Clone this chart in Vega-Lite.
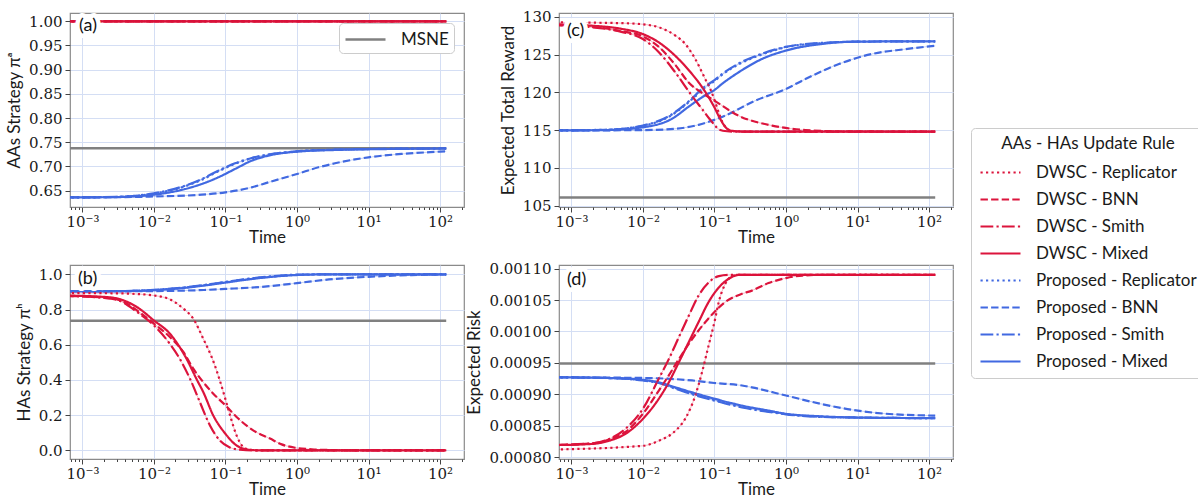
{
  "$schema": "https://vega.github.io/schema/vega-lite/v6.json",
  "background": "white",
  "padding": {"left": 5, "top": 9, "right": 0, "bottom": 0},
  "columns": 2,
  "bounds": "flush",
  "spacing": {"row": 58, "column": 95},
  "resolve": {"scale": {"stroke": "independent"}, "legend": {"stroke": "independent"}},
  "config": {
    "view": {"stroke": "#8a8a8a", "strokeWidth": 1.2},
    "axis": {"domain": false, "tickColor": "#444444", "tickWidth": 1, "gridColor": "#d4def4", "gridWidth": 1, "labelFont": "DejaVu Serif", "labelFontSize": 15, "labelColor": "#1a1a1a", "titleFont": "Lato", "titleFontSize": 17, "titleFontWeight": "normal", "titleColor": "#1a1a1a", "labelOverlap": false},
    "axisY": {"tickSize": 5, "labelPadding": 3, "titlePadding": 5},
    "axisX": {"labelPadding": 2, "titlePadding": 0},
    "legend": {"orient": "none", "legendX": 901, "legendY": 115, "titleFont": "Lato", "titleFontSize": 17, "titleFontWeight": "normal", "titleColor": "#1a1a1a", "titleAnchor": "middle", "titlePadding": 8, "labelFont": "Lato", "labelFontSize": 17, "labelColor": "#1a1a1a", "labelLimit": 400, "symbolType": "M-1,0H3", "symbolSize": 400, "symbolStrokeWidth": 2.2, "symbolOpacity": 1, "labelOffset": 34, "rowPadding": 7, "padding": 8, "strokeColor": "#cccccc", "fillColor": "white", "cornerRadius": 4}
  },
  "datasets": {
    "a": [
      {"s": "MSNE", "t": 0.0005, "v": 0.7375}, {"s": "MSNE", "t": 122, "v": 0.7375},
      {"s": "Proposed - Replicator", "t": 0.0005, "v": 0.636}, {"s": "Proposed - Replicator", "t": 0.002, "v": 0.6366}, {"s": "Proposed - Replicator", "t": 0.005, "v": 0.6388}, {"s": "Proposed - Replicator", "t": 0.01, "v": 0.644}, {"s": "Proposed - Replicator", "t": 0.0272, "v": 0.659}, {"s": "Proposed - Replicator", "t": 0.0465, "v": 0.6725}, {"s": "Proposed - Replicator", "t": 0.0794, "v": 0.69}, {"s": "Proposed - Replicator", "t": 0.136, "v": 0.7055}, {"s": "Proposed - Replicator", "t": 0.233, "v": 0.717}, {"s": "Proposed - Replicator", "t": 0.397, "v": 0.7242}, {"s": "Proposed - Replicator", "t": 1, "v": 0.7312}, {"s": "Proposed - Replicator", "t": 3.4, "v": 0.7347}, {"s": "Proposed - Replicator", "t": 10, "v": 0.7361}, {"s": "Proposed - Replicator", "t": 122, "v": 0.7373},
      {"s": "Proposed - BNN", "t": 0.0005, "v": 0.636}, {"s": "Proposed - BNN", "t": 0.005, "v": 0.637}, {"s": "Proposed - BNN", "t": 0.01, "v": 0.638}, {"s": "Proposed - BNN", "t": 0.0465, "v": 0.6417}, {"s": "Proposed - BNN", "t": 0.1, "v": 0.6466}, {"s": "Proposed - BNN", "t": 0.233, "v": 0.6569}, {"s": "Proposed - BNN", "t": 0.397, "v": 0.6672}, {"s": "Proposed - BNN", "t": 1, "v": 0.6845}, {"s": "Proposed - BNN", "t": 2, "v": 0.6983}, {"s": "Proposed - BNN", "t": 3.4, "v": 0.7066}, {"s": "Proposed - BNN", "t": 10, "v": 0.719}, {"s": "Proposed - BNN", "t": 29, "v": 0.7259}, {"s": "Proposed - BNN", "t": 100, "v": 0.7307}, {"s": "Proposed - BNN", "t": 122, "v": 0.7314},
      {"s": "Proposed - Smith", "t": 0.0005, "v": 0.636}, {"s": "Proposed - Smith", "t": 0.002, "v": 0.6367}, {"s": "Proposed - Smith", "t": 0.005, "v": 0.639}, {"s": "Proposed - Smith", "t": 0.01, "v": 0.6445}, {"s": "Proposed - Smith", "t": 0.0272, "v": 0.6603}, {"s": "Proposed - Smith", "t": 0.0465, "v": 0.674}, {"s": "Proposed - Smith", "t": 0.0794, "v": 0.6914}, {"s": "Proposed - Smith", "t": 0.136, "v": 0.7066}, {"s": "Proposed - Smith", "t": 0.233, "v": 0.7176}, {"s": "Proposed - Smith", "t": 0.397, "v": 0.7245}, {"s": "Proposed - Smith", "t": 1, "v": 0.7314}, {"s": "Proposed - Smith", "t": 3.4, "v": 0.7348}, {"s": "Proposed - Smith", "t": 10, "v": 0.7362}, {"s": "Proposed - Smith", "t": 122, "v": 0.7373},
      {"s": "Proposed - Mixed", "t": 0.0005, "v": 0.636}, {"s": "Proposed - Mixed", "t": 0.002, "v": 0.6365}, {"s": "Proposed - Mixed", "t": 0.005, "v": 0.638}, {"s": "Proposed - Mixed", "t": 0.01, "v": 0.6417}, {"s": "Proposed - Mixed", "t": 0.0272, "v": 0.6534}, {"s": "Proposed - Mixed", "t": 0.0465, "v": 0.6638}, {"s": "Proposed - Mixed", "t": 0.0794, "v": 0.6776}, {"s": "Proposed - Mixed", "t": 0.136, "v": 0.6948}, {"s": "Proposed - Mixed", "t": 0.233, "v": 0.712}, {"s": "Proposed - Mixed", "t": 0.397, "v": 0.7224}, {"s": "Proposed - Mixed", "t": 1, "v": 0.7307}, {"s": "Proposed - Mixed", "t": 3.4, "v": 0.7341}, {"s": "Proposed - Mixed", "t": 10, "v": 0.7355}, {"s": "Proposed - Mixed", "t": 122, "v": 0.7372},
      {"s": "DWSC - Replicator", "t": 0.0005, "v": 1.0}, {"s": "DWSC - Replicator", "t": 122, "v": 1.0},
      {"s": "DWSC - BNN", "t": 0.0005, "v": 1.0}, {"s": "DWSC - BNN", "t": 122, "v": 1.0},
      {"s": "DWSC - Smith", "t": 0.0005, "v": 1.0}, {"s": "DWSC - Smith", "t": 122, "v": 1.0},
      {"s": "DWSC - Mixed", "t": 0.0005, "v": 1.0}, {"s": "DWSC - Mixed", "t": 122, "v": 1.0}
    ],
    "b": [
      {"s": "MSNE", "t": 0.0005, "v": 0.737}, {"s": "MSNE", "t": 122, "v": 0.737},
      {"s": "Proposed - Replicator", "t": 0.0005, "v": 0.903}, {"s": "Proposed - Replicator", "t": 0.003, "v": 0.904}, {"s": "Proposed - Replicator", "t": 0.01, "v": 0.911}, {"s": "Proposed - Replicator", "t": 0.03, "v": 0.927}, {"s": "Proposed - Replicator", "t": 0.05, "v": 0.938}, {"s": "Proposed - Replicator", "t": 0.1, "v": 0.956}, {"s": "Proposed - Replicator", "t": 0.2, "v": 0.973}, {"s": "Proposed - Replicator", "t": 0.4, "v": 0.986}, {"s": "Proposed - Replicator", "t": 1, "v": 0.997}, {"s": "Proposed - Replicator", "t": 3, "v": 1.0}, {"s": "Proposed - Replicator", "t": 122, "v": 1.0},
      {"s": "Proposed - BNN", "t": 0.0005, "v": 0.903}, {"s": "Proposed - BNN", "t": 0.01, "v": 0.905}, {"s": "Proposed - BNN", "t": 0.05, "v": 0.911}, {"s": "Proposed - BNN", "t": 0.1, "v": 0.917}, {"s": "Proposed - BNN", "t": 0.323, "v": 0.929}, {"s": "Proposed - BNN", "t": 1, "v": 0.95}, {"s": "Proposed - BNN", "t": 2.8, "v": 0.971}, {"s": "Proposed - BNN", "t": 10, "v": 0.986}, {"s": "Proposed - BNN", "t": 40, "v": 0.996}, {"s": "Proposed - BNN", "t": 122, "v": 0.999},
      {"s": "Proposed - Smith", "t": 0.0005, "v": 0.903}, {"s": "Proposed - Smith", "t": 0.003, "v": 0.904}, {"s": "Proposed - Smith", "t": 0.01, "v": 0.912}, {"s": "Proposed - Smith", "t": 0.03, "v": 0.928}, {"s": "Proposed - Smith", "t": 0.05, "v": 0.939}, {"s": "Proposed - Smith", "t": 0.1, "v": 0.957}, {"s": "Proposed - Smith", "t": 0.2, "v": 0.974}, {"s": "Proposed - Smith", "t": 0.4, "v": 0.987}, {"s": "Proposed - Smith", "t": 1, "v": 0.998}, {"s": "Proposed - Smith", "t": 3, "v": 1.0}, {"s": "Proposed - Smith", "t": 122, "v": 1.0},
      {"s": "Proposed - Mixed", "t": 0.0005, "v": 0.903}, {"s": "Proposed - Mixed", "t": 0.003, "v": 0.904}, {"s": "Proposed - Mixed", "t": 0.01, "v": 0.91}, {"s": "Proposed - Mixed", "t": 0.03, "v": 0.925}, {"s": "Proposed - Mixed", "t": 0.05, "v": 0.936}, {"s": "Proposed - Mixed", "t": 0.1, "v": 0.953}, {"s": "Proposed - Mixed", "t": 0.2, "v": 0.97}, {"s": "Proposed - Mixed", "t": 0.4, "v": 0.984}, {"s": "Proposed - Mixed", "t": 1, "v": 0.996}, {"s": "Proposed - Mixed", "t": 3, "v": 1.0}, {"s": "Proposed - Mixed", "t": 122, "v": 1.0},
      {"s": "DWSC - Replicator", "t": 0.0005, "v": 0.894}, {"s": "DWSC - Replicator", "t": 0.003, "v": 0.892}, {"s": "DWSC - Replicator", "t": 0.006, "v": 0.888}, {"s": "DWSC - Replicator", "t": 0.01, "v": 0.88}, {"s": "DWSC - Replicator", "t": 0.0167, "v": 0.858}, {"s": "DWSC - Replicator", "t": 0.026, "v": 0.804}, {"s": "DWSC - Replicator", "t": 0.0355, "v": 0.748}, {"s": "DWSC - Replicator", "t": 0.049, "v": 0.634}, {"s": "DWSC - Replicator", "t": 0.068, "v": 0.504}, {"s": "DWSC - Replicator", "t": 0.083, "v": 0.4}, {"s": "DWSC - Replicator", "t": 0.1, "v": 0.29}, {"s": "DWSC - Replicator", "t": 0.116, "v": 0.199}, {"s": "DWSC - Replicator", "t": 0.143, "v": 0.085}, {"s": "DWSC - Replicator", "t": 0.178, "v": 0.019}, {"s": "DWSC - Replicator", "t": 0.22, "v": 0.004}, {"s": "DWSC - Replicator", "t": 0.3, "v": 0.0}, {"s": "DWSC - Replicator", "t": 122, "v": 0.0},
      {"s": "DWSC - BNN", "t": 0.0005, "v": 0.878}, {"s": "DWSC - BNN", "t": 0.002, "v": 0.868}, {"s": "DWSC - BNN", "t": 0.0034, "v": 0.852}, {"s": "DWSC - BNN", "t": 0.0058, "v": 0.795}, {"s": "DWSC - BNN", "t": 0.01, "v": 0.72}, {"s": "DWSC - BNN", "t": 0.0167, "v": 0.644}, {"s": "DWSC - BNN", "t": 0.0258, "v": 0.559}, {"s": "DWSC - BNN", "t": 0.0355, "v": 0.464}, {"s": "DWSC - BNN", "t": 0.0489, "v": 0.388}, {"s": "DWSC - BNN", "t": 0.0676, "v": 0.322}, {"s": "DWSC - BNN", "t": 0.1, "v": 0.256}, {"s": "DWSC - BNN", "t": 0.143, "v": 0.19}, {"s": "DWSC - BNN", "t": 0.244, "v": 0.114}, {"s": "DWSC - BNN", "t": 0.42, "v": 0.067}, {"s": "DWSC - BNN", "t": 0.61, "v": 0.034}, {"s": "DWSC - BNN", "t": 0.94, "v": 0.015}, {"s": "DWSC - BNN", "t": 1.6, "v": 0.006}, {"s": "DWSC - BNN", "t": 2.8, "v": 0.002}, {"s": "DWSC - BNN", "t": 6, "v": 0.0}, {"s": "DWSC - BNN", "t": 122, "v": 0.0},
      {"s": "DWSC - Smith", "t": 0.0005, "v": 0.878}, {"s": "DWSC - Smith", "t": 0.002, "v": 0.866}, {"s": "DWSC - Smith", "t": 0.0034, "v": 0.848}, {"s": "DWSC - Smith", "t": 0.0058, "v": 0.786}, {"s": "DWSC - Smith", "t": 0.01, "v": 0.71}, {"s": "DWSC - Smith", "t": 0.0167, "v": 0.605}, {"s": "DWSC - Smith", "t": 0.023, "v": 0.52}, {"s": "DWSC - Smith", "t": 0.032, "v": 0.406}, {"s": "DWSC - Smith", "t": 0.044, "v": 0.273}, {"s": "DWSC - Smith", "t": 0.061, "v": 0.14}, {"s": "DWSC - Smith", "t": 0.084, "v": 0.055}, {"s": "DWSC - Smith", "t": 0.115, "v": 0.017}, {"s": "DWSC - Smith", "t": 0.16, "v": 0.004}, {"s": "DWSC - Smith", "t": 0.25, "v": 0.0}, {"s": "DWSC - Smith", "t": 122, "v": 0.0},
      {"s": "DWSC - Mixed", "t": 0.0005, "v": 0.88}, {"s": "DWSC - Mixed", "t": 0.002, "v": 0.872}, {"s": "DWSC - Mixed", "t": 0.0034, "v": 0.858}, {"s": "DWSC - Mixed", "t": 0.0058, "v": 0.814}, {"s": "DWSC - Mixed", "t": 0.01, "v": 0.738}, {"s": "DWSC - Mixed", "t": 0.0167, "v": 0.663}, {"s": "DWSC - Mixed", "t": 0.0286, "v": 0.52}, {"s": "DWSC - Mixed", "t": 0.04, "v": 0.4}, {"s": "DWSC - Mixed", "t": 0.049, "v": 0.331}, {"s": "DWSC - Mixed", "t": 0.0676, "v": 0.198}, {"s": "DWSC - Mixed", "t": 0.1, "v": 0.094}, {"s": "DWSC - Mixed", "t": 0.143, "v": 0.028}, {"s": "DWSC - Mixed", "t": 0.2, "v": 0.005}, {"s": "DWSC - Mixed", "t": 0.3, "v": 0.0}, {"s": "DWSC - Mixed", "t": 122, "v": 0.0}
    ],
    "c": [
      {"s": "MSNE", "t": 0.0005, "v": 106.1}, {"s": "MSNE", "t": 122, "v": 106.1},
      {"s": "Proposed - Replicator", "t": 0.0005, "v": 114.95}, {"s": "Proposed - Replicator", "t": 0.003, "v": 115.05}, {"s": "Proposed - Replicator", "t": 0.01, "v": 115.55}, {"s": "Proposed - Replicator", "t": 0.0255, "v": 117.0}, {"s": "Proposed - Replicator", "t": 0.0436, "v": 118.7}, {"s": "Proposed - Replicator", "t": 0.074, "v": 120.6}, {"s": "Proposed - Replicator", "t": 0.1, "v": 121.5}, {"s": "Proposed - Replicator", "t": 0.127, "v": 122.3}, {"s": "Proposed - Replicator", "t": 0.218, "v": 123.7}, {"s": "Proposed - Replicator", "t": 0.46, "v": 125.0}, {"s": "Proposed - Replicator", "t": 0.98, "v": 125.95}, {"s": "Proposed - Replicator", "t": 3.2, "v": 126.5}, {"s": "Proposed - Replicator", "t": 10, "v": 126.7}, {"s": "Proposed - Replicator", "t": 122, "v": 126.75},
      {"s": "Proposed - BNN", "t": 0.0005, "v": 114.95}, {"s": "Proposed - BNN", "t": 0.01, "v": 115.0}, {"s": "Proposed - BNN", "t": 0.03, "v": 115.2}, {"s": "Proposed - BNN", "t": 0.06, "v": 115.7}, {"s": "Proposed - BNN", "t": 0.14, "v": 116.9}, {"s": "Proposed - BNN", "t": 0.372, "v": 118.9}, {"s": "Proposed - BNN", "t": 0.977, "v": 120.4}, {"s": "Proposed - BNN", "t": 1.87, "v": 121.76}, {"s": "Proposed - BNN", "t": 5.5, "v": 123.74}, {"s": "Proposed - BNN", "t": 15.9, "v": 125.07}, {"s": "Proposed - BNN", "t": 46, "v": 125.7}, {"s": "Proposed - BNN", "t": 122, "v": 126.16},
      {"s": "Proposed - Smith", "t": 0.0005, "v": 114.95}, {"s": "Proposed - Smith", "t": 0.003, "v": 115.05}, {"s": "Proposed - Smith", "t": 0.01, "v": 115.6}, {"s": "Proposed - Smith", "t": 0.0255, "v": 117.1}, {"s": "Proposed - Smith", "t": 0.0436, "v": 118.8}, {"s": "Proposed - Smith", "t": 0.074, "v": 120.8}, {"s": "Proposed - Smith", "t": 0.1, "v": 121.6}, {"s": "Proposed - Smith", "t": 0.127, "v": 122.4}, {"s": "Proposed - Smith", "t": 0.218, "v": 123.8}, {"s": "Proposed - Smith", "t": 0.46, "v": 125.1}, {"s": "Proposed - Smith", "t": 0.98, "v": 126.0}, {"s": "Proposed - Smith", "t": 3.2, "v": 126.55}, {"s": "Proposed - Smith", "t": 10, "v": 126.7}, {"s": "Proposed - Smith", "t": 122, "v": 126.75},
      {"s": "Proposed - Mixed", "t": 0.0005, "v": 114.95}, {"s": "Proposed - Mixed", "t": 0.003, "v": 115.0}, {"s": "Proposed - Mixed", "t": 0.01, "v": 115.37}, {"s": "Proposed - Mixed", "t": 0.0255, "v": 116.5}, {"s": "Proposed - Mixed", "t": 0.0436, "v": 118.1}, {"s": "Proposed - Mixed", "t": 0.074, "v": 119.6}, {"s": "Proposed - Mixed", "t": 0.1, "v": 120.3}, {"s": "Proposed - Mixed", "t": 0.127, "v": 121.1}, {"s": "Proposed - Mixed", "t": 0.218, "v": 122.65}, {"s": "Proposed - Mixed", "t": 0.46, "v": 124.4}, {"s": "Proposed - Mixed", "t": 0.98, "v": 125.5}, {"s": "Proposed - Mixed", "t": 3.2, "v": 126.4}, {"s": "Proposed - Mixed", "t": 9.4, "v": 126.7}, {"s": "Proposed - Mixed", "t": 122, "v": 126.75},
      {"s": "DWSC - Replicator", "t": 0.0005, "v": 129.25}, {"s": "DWSC - Replicator", "t": 0.005, "v": 129.15}, {"s": "DWSC - Replicator", "t": 0.01, "v": 129.0}, {"s": "DWSC - Replicator", "t": 0.0167, "v": 128.6}, {"s": "DWSC - Replicator", "t": 0.0285, "v": 127.5}, {"s": "DWSC - Replicator", "t": 0.039, "v": 126.4}, {"s": "DWSC - Replicator", "t": 0.054, "v": 124.4}, {"s": "DWSC - Replicator", "t": 0.074, "v": 121.8}, {"s": "DWSC - Replicator", "t": 0.087, "v": 120.5}, {"s": "DWSC - Replicator", "t": 0.1, "v": 119.0}, {"s": "DWSC - Replicator", "t": 0.115, "v": 117.3}, {"s": "DWSC - Replicator", "t": 0.13, "v": 116.0}, {"s": "DWSC - Replicator", "t": 0.15, "v": 115.2}, {"s": "DWSC - Replicator", "t": 0.18, "v": 114.9}, {"s": "DWSC - Replicator", "t": 0.25, "v": 114.8}, {"s": "DWSC - Replicator", "t": 122, "v": 114.8},
      {"s": "DWSC - BNN", "t": 0.0005, "v": 128.9}, {"s": "DWSC - BNN", "t": 0.002, "v": 128.65}, {"s": "DWSC - BNN", "t": 0.005, "v": 128.1}, {"s": "DWSC - BNN", "t": 0.01, "v": 127.4}, {"s": "DWSC - BNN", "t": 0.0167, "v": 126.0}, {"s": "DWSC - BNN", "t": 0.0285, "v": 123.6}, {"s": "DWSC - BNN", "t": 0.0436, "v": 121.3}, {"s": "DWSC - BNN", "t": 0.07, "v": 119.8}, {"s": "DWSC - BNN", "t": 0.1, "v": 118.9}, {"s": "DWSC - BNN", "t": 0.218, "v": 116.9}, {"s": "DWSC - BNN", "t": 0.64, "v": 115.6}, {"s": "DWSC - BNN", "t": 1.88, "v": 115.0}, {"s": "DWSC - BNN", "t": 5, "v": 114.85}, {"s": "DWSC - BNN", "t": 122, "v": 114.8},
      {"s": "DWSC - Smith", "t": 0.0005, "v": 128.9}, {"s": "DWSC - Smith", "t": 0.002, "v": 128.6}, {"s": "DWSC - Smith", "t": 0.005, "v": 128.0}, {"s": "DWSC - Smith", "t": 0.01, "v": 127.05}, {"s": "DWSC - Smith", "t": 0.0167, "v": 125.3}, {"s": "DWSC - Smith", "t": 0.0285, "v": 122.6}, {"s": "DWSC - Smith", "t": 0.0488, "v": 119.5}, {"s": "DWSC - Smith", "t": 0.067, "v": 117.8}, {"s": "DWSC - Smith", "t": 0.085, "v": 116.5}, {"s": "DWSC - Smith", "t": 0.1, "v": 115.7}, {"s": "DWSC - Smith", "t": 0.115, "v": 115.1}, {"s": "DWSC - Smith", "t": 0.15, "v": 114.85}, {"s": "DWSC - Smith", "t": 0.2, "v": 114.8}, {"s": "DWSC - Smith", "t": 122, "v": 114.8},
      {"s": "DWSC - Mixed", "t": 0.0005, "v": 129.0}, {"s": "DWSC - Mixed", "t": 0.002, "v": 128.8}, {"s": "DWSC - Mixed", "t": 0.005, "v": 128.4}, {"s": "DWSC - Mixed", "t": 0.01, "v": 127.7}, {"s": "DWSC - Mixed", "t": 0.0167, "v": 126.6}, {"s": "DWSC - Mixed", "t": 0.0285, "v": 124.8}, {"s": "DWSC - Mixed", "t": 0.0488, "v": 122.4}, {"s": "DWSC - Mixed", "t": 0.067, "v": 120.7}, {"s": "DWSC - Mixed", "t": 0.1, "v": 118.0}, {"s": "DWSC - Mixed", "t": 0.12, "v": 116.5}, {"s": "DWSC - Mixed", "t": 0.14, "v": 115.5}, {"s": "DWSC - Mixed", "t": 0.16, "v": 115.0}, {"s": "DWSC - Mixed", "t": 0.2, "v": 114.85}, {"s": "DWSC - Mixed", "t": 0.3, "v": 114.8}, {"s": "DWSC - Mixed", "t": 122, "v": 114.8}
    ],
    "d": [
      {"s": "MSNE", "t": 0.0005, "v": 0.000949}, {"s": "MSNE", "t": 122, "v": 0.000949},
      {"s": "Proposed - Replicator", "t": 0.0005, "v": 0.000927}, {"s": "Proposed - Replicator", "t": 0.003, "v": 0.000926}, {"s": "Proposed - Replicator", "t": 0.01, "v": 0.0009225}, {"s": "Proposed - Replicator", "t": 0.0167, "v": 0.0009185}, {"s": "Proposed - Replicator", "t": 0.0285, "v": 0.00091}, {"s": "Proposed - Replicator", "t": 0.0488, "v": 0.0009015}, {"s": "Proposed - Replicator", "t": 0.1, "v": 0.000891}, {"s": "Proposed - Replicator", "t": 0.243, "v": 0.00088}, {"s": "Proposed - Replicator", "t": 0.57, "v": 0.000873}, {"s": "Proposed - Replicator", "t": 1, "v": 0.0008685}, {"s": "Proposed - Replicator", "t": 3, "v": 0.0008645}, {"s": "Proposed - Replicator", "t": 10, "v": 0.000863}, {"s": "Proposed - Replicator", "t": 122, "v": 0.000862},
      {"s": "Proposed - BNN", "t": 0.0005, "v": 0.000927}, {"s": "Proposed - BNN", "t": 0.01, "v": 0.000926}, {"s": "Proposed - BNN", "t": 0.0488, "v": 0.000922}, {"s": "Proposed - BNN", "t": 0.1, "v": 0.000918}, {"s": "Proposed - BNN", "t": 0.243, "v": 0.000914}, {"s": "Proposed - BNN", "t": 0.334, "v": 0.000911}, {"s": "Proposed - BNN", "t": 1, "v": 0.000898}, {"s": "Proposed - BNN", "t": 3, "v": 0.000885}, {"s": "Proposed - BNN", "t": 8.7, "v": 0.000875}, {"s": "Proposed - BNN", "t": 25, "v": 0.000869}, {"s": "Proposed - BNN", "t": 122, "v": 0.000866},
      {"s": "Proposed - Smith", "t": 0.0005, "v": 0.000927}, {"s": "Proposed - Smith", "t": 0.003, "v": 0.000926}, {"s": "Proposed - Smith", "t": 0.01, "v": 0.000922}, {"s": "Proposed - Smith", "t": 0.0167, "v": 0.000918}, {"s": "Proposed - Smith", "t": 0.0285, "v": 0.000909}, {"s": "Proposed - Smith", "t": 0.0488, "v": 0.0009}, {"s": "Proposed - Smith", "t": 0.1, "v": 0.00089}, {"s": "Proposed - Smith", "t": 0.243, "v": 0.000879}, {"s": "Proposed - Smith", "t": 0.57, "v": 0.000872}, {"s": "Proposed - Smith", "t": 1, "v": 0.000868}, {"s": "Proposed - Smith", "t": 3, "v": 0.000864}, {"s": "Proposed - Smith", "t": 10, "v": 0.000863}, {"s": "Proposed - Smith", "t": 122, "v": 0.000862},
      {"s": "Proposed - Mixed", "t": 0.0005, "v": 0.000927}, {"s": "Proposed - Mixed", "t": 0.003, "v": 0.000926}, {"s": "Proposed - Mixed", "t": 0.01, "v": 0.000923}, {"s": "Proposed - Mixed", "t": 0.0167, "v": 0.000919}, {"s": "Proposed - Mixed", "t": 0.0285, "v": 0.000911}, {"s": "Proposed - Mixed", "t": 0.0488, "v": 0.000903}, {"s": "Proposed - Mixed", "t": 0.1, "v": 0.000893}, {"s": "Proposed - Mixed", "t": 0.243, "v": 0.000882}, {"s": "Proposed - Mixed", "t": 0.57, "v": 0.000874}, {"s": "Proposed - Mixed", "t": 1, "v": 0.000869}, {"s": "Proposed - Mixed", "t": 3, "v": 0.000865}, {"s": "Proposed - Mixed", "t": 10, "v": 0.000863}, {"s": "Proposed - Mixed", "t": 122, "v": 0.000862},
      {"s": "DWSC - Replicator", "t": 0.0005, "v": 0.000812}, {"s": "DWSC - Replicator", "t": 0.01, "v": 0.000818}, {"s": "DWSC - Replicator", "t": 0.0167, "v": 0.000826}, {"s": "DWSC - Replicator", "t": 0.0285, "v": 0.000842}, {"s": "DWSC - Replicator", "t": 0.039, "v": 0.000861}, {"s": "DWSC - Replicator", "t": 0.054, "v": 0.000898}, {"s": "DWSC - Replicator", "t": 0.067, "v": 0.000935}, {"s": "DWSC - Replicator", "t": 0.083, "v": 0.000978}, {"s": "DWSC - Replicator", "t": 0.1, "v": 0.001015}, {"s": "DWSC - Replicator", "t": 0.115, "v": 0.001047}, {"s": "DWSC - Replicator", "t": 0.142, "v": 0.001076}, {"s": "DWSC - Replicator", "t": 0.177, "v": 0.001088}, {"s": "DWSC - Replicator", "t": 0.22, "v": 0.00109}, {"s": "DWSC - Replicator", "t": 122, "v": 0.00109},
      {"s": "DWSC - BNN", "t": 0.0005, "v": 0.000819}, {"s": "DWSC - BNN", "t": 0.002, "v": 0.000822}, {"s": "DWSC - BNN", "t": 0.0034, "v": 0.000828}, {"s": "DWSC - BNN", "t": 0.0057, "v": 0.00084}, {"s": "DWSC - BNN", "t": 0.01, "v": 0.000869}, {"s": "DWSC - BNN", "t": 0.0167, "v": 0.000906}, {"s": "DWSC - BNN", "t": 0.023, "v": 0.00093}, {"s": "DWSC - BNN", "t": 0.0318, "v": 0.000956}, {"s": "DWSC - BNN", "t": 0.0488, "v": 0.000988}, {"s": "DWSC - BNN", "t": 0.0748, "v": 0.001015}, {"s": "DWSC - BNN", "t": 0.1, "v": 0.001031}, {"s": "DWSC - BNN", "t": 0.142, "v": 0.001047}, {"s": "DWSC - BNN", "t": 0.243, "v": 0.00106}, {"s": "DWSC - BNN", "t": 0.334, "v": 0.001065}, {"s": "DWSC - BNN", "t": 0.57, "v": 0.001077}, {"s": "DWSC - BNN", "t": 1, "v": 0.001085}, {"s": "DWSC - BNN", "t": 1.7, "v": 0.001089}, {"s": "DWSC - BNN", "t": 3, "v": 0.00109}, {"s": "DWSC - BNN", "t": 122, "v": 0.00109},
      {"s": "DWSC - Smith", "t": 0.0005, "v": 0.000819}, {"s": "DWSC - Smith", "t": 0.002, "v": 0.000822}, {"s": "DWSC - Smith", "t": 0.0034, "v": 0.000829}, {"s": "DWSC - Smith", "t": 0.0057, "v": 0.000845}, {"s": "DWSC - Smith", "t": 0.01, "v": 0.000877}, {"s": "DWSC - Smith", "t": 0.0167, "v": 0.000925}, {"s": "DWSC - Smith", "t": 0.023, "v": 0.000956}, {"s": "DWSC - Smith", "t": 0.0318, "v": 0.000991}, {"s": "DWSC - Smith", "t": 0.0437, "v": 0.001025}, {"s": "DWSC - Smith", "t": 0.06, "v": 0.001057}, {"s": "DWSC - Smith", "t": 0.083, "v": 0.001078}, {"s": "DWSC - Smith", "t": 0.115, "v": 0.001088}, {"s": "DWSC - Smith", "t": 0.16, "v": 0.00109}, {"s": "DWSC - Smith", "t": 122, "v": 0.00109},
      {"s": "DWSC - Mixed", "t": 0.0005, "v": 0.000819}, {"s": "DWSC - Mixed", "t": 0.00197, "v": 0.000821}, {"s": "DWSC - Mixed", "t": 0.00335, "v": 0.000826}, {"s": "DWSC - Mixed", "t": 0.0057, "v": 0.000837}, {"s": "DWSC - Mixed", "t": 0.01, "v": 0.000861}, {"s": "DWSC - Mixed", "t": 0.0167, "v": 0.000893}, {"s": "DWSC - Mixed", "t": 0.023, "v": 0.000919}, {"s": "DWSC - Mixed", "t": 0.0318, "v": 0.000951}, {"s": "DWSC - Mixed", "t": 0.0437, "v": 0.000983}, {"s": "DWSC - Mixed", "t": 0.06, "v": 0.001015}, {"s": "DWSC - Mixed", "t": 0.083, "v": 0.001047}, {"s": "DWSC - Mixed", "t": 0.115, "v": 0.00107}, {"s": "DWSC - Mixed", "t": 0.159, "v": 0.001084}, {"s": "DWSC - Mixed", "t": 0.22, "v": 0.00109}, {"s": "DWSC - Mixed", "t": 122, "v": 0.00109}
    ]
  },
  "concat": [
    {
      "width": 394, "height": 194,
      "layer": [
        {
          "data": {"name": "a"},
          "encoding": {
            "x": {"field": "t", "type": "quantitative", "title": "Time", "scale": {"type": "log", "domain": [0.000671, 216.3], "nice": false}, "axis": {"values": [0.0007,0.0008,0.0009,0.001,0.002,0.003,0.004,0.005,0.006,0.007,0.008,0.009,0.01,0.02,0.03,0.04,0.05,0.06,0.07,0.08,0.09,0.1,0.2,0.3,0.4,0.5,0.6,0.7,0.8,0.9,1,2,3,4,5,6,7,8,9,10,20,30,40,50,60,70,80,90,100,200], "labelOverlap": false, "labelFlush": false, "labelExpr": "abs(log(datum.value)/LN10-round(log(datum.value)/LN10))<0.01 ? '10' + ['⁻³','⁻²','⁻¹','⁰','¹','²'][round(log(datum.value)/LN10)+3] : ''", "tickSize": {"condition": {"test": "abs(log(datum.value)/LN10-round(log(datum.value)/LN10))<0.01", "value": 5}, "value": 2.5}, "gridOpacity": {"condition": {"test": "abs(log(datum.value)/LN10-round(log(datum.value)/LN10))<0.01", "value": 1}, "value": 0}}},
            "y": {"field": "v", "type": "quantitative", "title": "AAs Strategy πᵃ", "scale": {"domain": [0.6163, 1.0171], "nice": false, "zero": false}, "axis": {"values": [0.65,0.7,0.75,0.8,0.85,0.9,0.95,1.0], "format": ".2f", "labelOverlap": false}}
          },
          "layer": [
            {"transform": [{"filter": "datum.s == 'MSNE'"}], "mark": {"type": "line", "strokeWidth": 2.5, "clip": true}, "encoding": {"stroke": {"field": "s", "type": "nominal", "title": null, "scale": {"domain": ["MSNE"], "range": ["#808080"]}, "legend": {"orient": "top-right", "offset": 10, "padding": 5, "symbolStrokeWidth": 2.5, "title": null}}}},
            {"transform": [{"filter": "datum.s != 'MSNE'"}], "mark": {"type": "line", "strokeWidth": 2.2, "clip": true, "interpolate": "monotone"}, "encoding": {"color": {"field": "s", "type": "nominal", "title": "AAs - HAs Update Rule", "scale": {"domain": ["DWSC - Replicator","DWSC - BNN","DWSC - Smith","DWSC - Mixed","Proposed - Replicator","Proposed - BNN","Proposed - Smith","Proposed - Mixed"], "range": ["#DC143C","#DC143C","#DC143C","#DC143C","#4169E1","#4169E1","#4169E1","#4169E1"]}}, "strokeDash": {"field": "s", "type": "nominal", "title": "AAs - HAs Update Rule", "scale": {"domain": ["DWSC - Replicator","DWSC - BNN","DWSC - Smith","DWSC - Mixed","Proposed - Replicator","Proposed - BNN","Proposed - Smith","Proposed - Mixed"], "range": [[2.2,3.3],[7.4,3.2],[12.8,3.2,2.2,3.2],[1,0],[2.2,3.3],[7.4,3.2],[12.8,3.2,2.2,3.2],[1,0]]}}}},
            {"transform": [{"filter": "datum.s != 'MSNE'"}], "mark": {"type": "line", "strokeWidth": 1, "opacity": 0.3, "clip": true, "interpolate": "monotone"}, "encoding": {"color": {"field": "s", "type": "nominal", "title": "AAs - HAs Update Rule", "scale": {"domain": ["DWSC - Replicator","DWSC - BNN","DWSC - Smith","DWSC - Mixed","Proposed - Replicator","Proposed - BNN","Proposed - Smith","Proposed - Mixed"], "range": ["#DC143C","#DC143C","#DC143C","#DC143C","#4169E1","#4169E1","#4169E1","#4169E1"]}}}}
          ]
        },
        {
          "data": {"values": [{"lab": "(a)"}]},
          "encoding": {
            "x": {"datum": 0.000898, "type": "quantitative", "title": "Time", "scale": {"type": "log", "domain": [0.000671, 216.3], "nice": false}},
            "y": {"datum": 0.9903, "type": "quantitative", "title": "AAs Strategy πᵃ", "scale": {"domain": [0.6163, 1.0171], "nice": false, "zero": false}, "axis": {"values": [0.65,0.7,0.75,0.8,0.85,0.9,0.95,1.0], "format": ".2f", "labelOverlap": false}},
            "text": {"field": "lab", "type": "nominal"}
          },
          "layer": [
            {"mark": {"type": "text", "align": "left", "baseline": "middle", "font": "Lato", "fontSize": 18, "color": "white", "stroke": "white", "strokeWidth": 9, "strokeJoin": "round"}},
            {"mark": {"type": "text", "align": "left", "baseline": "middle", "font": "Lato", "fontSize": 18, "color": "#111111"}}
          ]
        }
      ]
    },
    {
      "width": 394, "height": 194,
      "layer": [
        {
          "data": {"name": "c"},
          "encoding": {
            "x": {"field": "t", "type": "quantitative", "title": "Time", "scale": {"type": "log", "domain": [0.000671, 216.3], "nice": false}, "axis": {"values": [0.0007,0.0008,0.0009,0.001,0.002,0.003,0.004,0.005,0.006,0.007,0.008,0.009,0.01,0.02,0.03,0.04,0.05,0.06,0.07,0.08,0.09,0.1,0.2,0.3,0.4,0.5,0.6,0.7,0.8,0.9,1,2,3,4,5,6,7,8,9,10,20,30,40,50,60,70,80,90,100,200], "labelOverlap": false, "labelFlush": false, "labelExpr": "abs(log(datum.value)/LN10-round(log(datum.value)/LN10))<0.01 ? '10' + ['⁻³','⁻²','⁻¹','⁰','¹','²'][round(log(datum.value)/LN10)+3] : ''", "tickSize": {"condition": {"test": "abs(log(datum.value)/LN10-round(log(datum.value)/LN10))<0.01", "value": 5}, "value": 2.5}, "gridOpacity": {"condition": {"test": "abs(log(datum.value)/LN10-round(log(datum.value)/LN10))<0.01", "value": 1}, "value": 0}}},
            "y": {"field": "v", "type": "quantitative", "title": "Expected Total Reward", "scale": {"domain": [104.83, 130.49], "nice": false, "zero": false}, "axis": {"values": [105,110,115,120,125,130], "format": "d", "labelOverlap": false}}
          },
          "layer": [
            {"transform": [{"filter": "datum.s == 'MSNE'"}], "mark": {"type": "line", "strokeWidth": 2.5, "clip": true, "color": "#808080"}},
            {"transform": [{"filter": "datum.s != 'MSNE'"}], "mark": {"type": "line", "strokeWidth": 2.2, "clip": true, "interpolate": "monotone"}, "encoding": {"color": {"field": "s", "type": "nominal", "title": "AAs - HAs Update Rule", "scale": {"domain": ["DWSC - Replicator","DWSC - BNN","DWSC - Smith","DWSC - Mixed","Proposed - Replicator","Proposed - BNN","Proposed - Smith","Proposed - Mixed"], "range": ["#DC143C","#DC143C","#DC143C","#DC143C","#4169E1","#4169E1","#4169E1","#4169E1"]}}, "strokeDash": {"field": "s", "type": "nominal", "title": "AAs - HAs Update Rule", "scale": {"domain": ["DWSC - Replicator","DWSC - BNN","DWSC - Smith","DWSC - Mixed","Proposed - Replicator","Proposed - BNN","Proposed - Smith","Proposed - Mixed"], "range": [[2.2,3.3],[7.4,3.2],[12.8,3.2,2.2,3.2],[1,0],[2.2,3.3],[7.4,3.2],[12.8,3.2,2.2,3.2],[1,0]]}}}},
            {"transform": [{"filter": "datum.s != 'MSNE'"}], "mark": {"type": "line", "strokeWidth": 1, "opacity": 0.3, "clip": true, "interpolate": "monotone"}, "encoding": {"color": {"field": "s", "type": "nominal", "title": "AAs - HAs Update Rule", "scale": {"domain": ["DWSC - Replicator","DWSC - BNN","DWSC - Smith","DWSC - Mixed","Proposed - Replicator","Proposed - BNN","Proposed - Smith","Proposed - Mixed"], "range": ["#DC143C","#DC143C","#DC143C","#DC143C","#4169E1","#4169E1","#4169E1","#4169E1"]}}}}
          ]
        },
        {
          "data": {"values": [{"lab": "(c)"}]},
          "encoding": {
            "x": {"datum": 0.00087, "type": "quantitative", "title": "Time", "scale": {"type": "log", "domain": [0.000671, 216.3], "nice": false}},
            "y": {"datum": 128.1, "type": "quantitative", "title": "Expected Total Reward", "scale": {"domain": [104.83, 130.49], "nice": false, "zero": false}, "axis": {"values": [105,110,115,120,125,130], "format": "d", "labelOverlap": false}},
            "text": {"field": "lab", "type": "nominal"}
          },
          "layer": [
            {"mark": {"type": "text", "align": "left", "baseline": "middle", "font": "Lato", "fontSize": 18, "color": "white", "stroke": "white", "strokeWidth": 9, "strokeJoin": "round"}},
            {"mark": {"type": "text", "align": "left", "baseline": "middle", "font": "Lato", "fontSize": 18, "color": "#111111"}}
          ]
        }
      ]
    },
    {
      "width": 394, "height": 194,
      "layer": [
        {
          "data": {"name": "b"},
          "encoding": {
            "x": {"field": "t", "type": "quantitative", "title": "Time", "scale": {"type": "log", "domain": [0.000671, 216.3], "nice": false}, "axis": {"values": [0.0007,0.0008,0.0009,0.001,0.002,0.003,0.004,0.005,0.006,0.007,0.008,0.009,0.01,0.02,0.03,0.04,0.05,0.06,0.07,0.08,0.09,0.1,0.2,0.3,0.4,0.5,0.6,0.7,0.8,0.9,1,2,3,4,5,6,7,8,9,10,20,30,40,50,60,70,80,90,100,200], "labelOverlap": false, "labelFlush": false, "labelExpr": "abs(log(datum.value)/LN10-round(log(datum.value)/LN10))<0.01 ? '10' + ['⁻³','⁻²','⁻¹','⁰','¹','²'][round(log(datum.value)/LN10)+3] : ''", "tickSize": {"condition": {"test": "abs(log(datum.value)/LN10-round(log(datum.value)/LN10))<0.01", "value": 5}, "value": 2.5}, "gridOpacity": {"condition": {"test": "abs(log(datum.value)/LN10-round(log(datum.value)/LN10))<0.01", "value": 1}, "value": 0}}},
            "y": {"field": "v", "type": "quantitative", "title": "HAs Strategy πʰ", "scale": {"domain": [-0.049, 1.053], "nice": false, "zero": false}, "axis": {"values": [0,0.2,0.4,0.6,0.8,1.0], "format": ".1f", "labelOverlap": false}}
          },
          "layer": [
            {"transform": [{"filter": "datum.s == 'MSNE'"}], "mark": {"type": "line", "strokeWidth": 2.5, "clip": true, "color": "#808080"}},
            {"transform": [{"filter": "datum.s != 'MSNE'"}], "mark": {"type": "line", "strokeWidth": 2.2, "clip": true, "interpolate": "monotone"}, "encoding": {"color": {"field": "s", "type": "nominal", "title": "AAs - HAs Update Rule", "scale": {"domain": ["DWSC - Replicator","DWSC - BNN","DWSC - Smith","DWSC - Mixed","Proposed - Replicator","Proposed - BNN","Proposed - Smith","Proposed - Mixed"], "range": ["#DC143C","#DC143C","#DC143C","#DC143C","#4169E1","#4169E1","#4169E1","#4169E1"]}}, "strokeDash": {"field": "s", "type": "nominal", "title": "AAs - HAs Update Rule", "scale": {"domain": ["DWSC - Replicator","DWSC - BNN","DWSC - Smith","DWSC - Mixed","Proposed - Replicator","Proposed - BNN","Proposed - Smith","Proposed - Mixed"], "range": [[2.2,3.3],[7.4,3.2],[12.8,3.2,2.2,3.2],[1,0],[2.2,3.3],[7.4,3.2],[12.8,3.2,2.2,3.2],[1,0]]}}}},
            {"transform": [{"filter": "datum.s != 'MSNE'"}], "mark": {"type": "line", "strokeWidth": 1, "opacity": 0.3, "clip": true, "interpolate": "monotone"}, "encoding": {"color": {"field": "s", "type": "nominal", "title": "AAs - HAs Update Rule", "scale": {"domain": ["DWSC - Replicator","DWSC - BNN","DWSC - Smith","DWSC - Mixed","Proposed - Replicator","Proposed - BNN","Proposed - Smith","Proposed - Mixed"], "range": ["#DC143C","#DC143C","#DC143C","#DC143C","#4169E1","#4169E1","#4169E1","#4169E1"]}}}}
          ]
        },
        {
          "data": {"values": [{"lab": "(b)"}]},
          "encoding": {
            "x": {"datum": 0.00087, "type": "quantitative", "title": "Time", "scale": {"type": "log", "domain": [0.000671, 216.3], "nice": false}},
            "y": {"datum": 0.973, "type": "quantitative", "title": "HAs Strategy πʰ", "scale": {"domain": [-0.049, 1.053], "nice": false, "zero": false}, "axis": {"values": [0,0.2,0.4,0.6,0.8,1.0], "format": ".1f", "labelOverlap": false}},
            "text": {"field": "lab", "type": "nominal"}
          },
          "layer": [
            {"mark": {"type": "text", "align": "left", "baseline": "middle", "font": "Lato", "fontSize": 18, "color": "white", "stroke": "white", "strokeWidth": 9, "strokeJoin": "round"}},
            {"mark": {"type": "text", "align": "left", "baseline": "middle", "font": "Lato", "fontSize": 18, "color": "#111111"}}
          ]
        }
      ]
    },
    {
      "width": 394, "height": 194,
      "layer": [
        {
          "data": {"name": "d"},
          "encoding": {
            "x": {"field": "t", "type": "quantitative", "title": "Time", "scale": {"type": "log", "domain": [0.000671, 216.3], "nice": false}, "axis": {"values": [0.0007,0.0008,0.0009,0.001,0.002,0.003,0.004,0.005,0.006,0.007,0.008,0.009,0.01,0.02,0.03,0.04,0.05,0.06,0.07,0.08,0.09,0.1,0.2,0.3,0.4,0.5,0.6,0.7,0.8,0.9,1,2,3,4,5,6,7,8,9,10,20,30,40,50,60,70,80,90,100,200], "labelOverlap": false, "labelFlush": false, "labelExpr": "abs(log(datum.value)/LN10-round(log(datum.value)/LN10))<0.01 ? '10' + ['⁻³','⁻²','⁻¹','⁰','¹','²'][round(log(datum.value)/LN10)+3] : ''", "tickSize": {"condition": {"test": "abs(log(datum.value)/LN10-round(log(datum.value)/LN10))<0.01", "value": 5}, "value": 2.5}, "gridOpacity": {"condition": {"test": "abs(log(datum.value)/LN10-round(log(datum.value)/LN10))<0.01", "value": 1}, "value": 0}}},
            "y": {"field": "v", "type": "quantitative", "title": "Expected Risk", "scale": {"domain": [0.000797, 0.0011058], "nice": false, "zero": false}, "axis": {"values": [0.0008,0.00085,0.0009,0.00095,0.001,0.00105,0.0011], "format": ".5f", "labelOverlap": false}}
          },
          "layer": [
            {"transform": [{"filter": "datum.s == 'MSNE'"}], "mark": {"type": "line", "strokeWidth": 2.5, "clip": true, "color": "#808080"}},
            {"transform": [{"filter": "datum.s != 'MSNE'"}], "mark": {"type": "line", "strokeWidth": 2.2, "clip": true, "interpolate": "monotone"}, "encoding": {"color": {"field": "s", "type": "nominal", "title": "AAs - HAs Update Rule", "scale": {"domain": ["DWSC - Replicator","DWSC - BNN","DWSC - Smith","DWSC - Mixed","Proposed - Replicator","Proposed - BNN","Proposed - Smith","Proposed - Mixed"], "range": ["#DC143C","#DC143C","#DC143C","#DC143C","#4169E1","#4169E1","#4169E1","#4169E1"]}}, "strokeDash": {"field": "s", "type": "nominal", "title": "AAs - HAs Update Rule", "scale": {"domain": ["DWSC - Replicator","DWSC - BNN","DWSC - Smith","DWSC - Mixed","Proposed - Replicator","Proposed - BNN","Proposed - Smith","Proposed - Mixed"], "range": [[2.2,3.3],[7.4,3.2],[12.8,3.2,2.2,3.2],[1,0],[2.2,3.3],[7.4,3.2],[12.8,3.2,2.2,3.2],[1,0]]}}}},
            {"transform": [{"filter": "datum.s != 'MSNE'"}], "mark": {"type": "line", "strokeWidth": 1, "opacity": 0.3, "clip": true, "interpolate": "monotone"}, "encoding": {"color": {"field": "s", "type": "nominal", "title": "AAs - HAs Update Rule", "scale": {"domain": ["DWSC - Replicator","DWSC - BNN","DWSC - Smith","DWSC - Mixed","Proposed - Replicator","Proposed - BNN","Proposed - Smith","Proposed - Mixed"], "range": ["#DC143C","#DC143C","#DC143C","#DC143C","#4169E1","#4169E1","#4169E1","#4169E1"]}}}}
          ]
        },
        {
          "data": {"values": [{"lab": "(d)"}]},
          "encoding": {
            "x": {"datum": 0.00087, "type": "quantitative", "title": "Time", "scale": {"type": "log", "domain": [0.000671, 216.3], "nice": false}},
            "y": {"datum": 0.0010816, "type": "quantitative", "title": "Expected Risk", "scale": {"domain": [0.000797, 0.0011058], "nice": false, "zero": false}, "axis": {"values": [0.0008,0.00085,0.0009,0.00095,0.001,0.00105,0.0011], "format": ".5f", "labelOverlap": false}},
            "text": {"field": "lab", "type": "nominal"}
          },
          "layer": [
            {"mark": {"type": "text", "align": "left", "baseline": "middle", "font": "Lato", "fontSize": 18, "color": "white", "stroke": "white", "strokeWidth": 9, "strokeJoin": "round"}},
            {"mark": {"type": "text", "align": "left", "baseline": "middle", "font": "Lato", "fontSize": 18, "color": "#111111"}}
          ]
        }
      ]
    }
  ]
}
